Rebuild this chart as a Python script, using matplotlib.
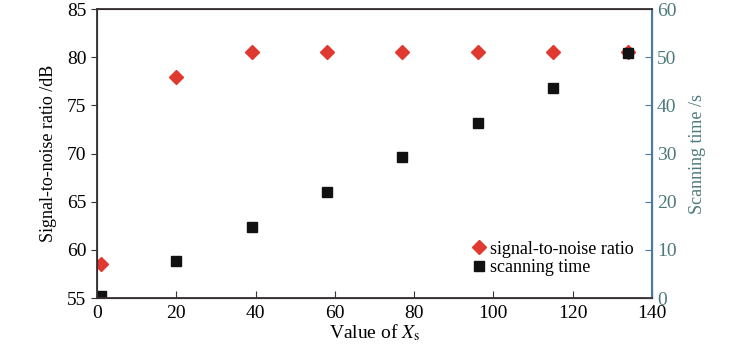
import matplotlib.pyplot as plt

plt.rcParams['font.family'] = ['Liberation Serif', 'DejaVu Serif']
plt.rcParams['mathtext.fontset'] = 'stix'

xs_values = [1, 20, 39, 58, 77, 96, 115, 134]
snr_db = [58.5, 77.9, 80.5, 80.5, 80.5, 80.5, 80.5, 80.5]
scan_time_s = [0.4, 7.7, 14.7, 22.0, 29.2, 36.3, 43.5, 50.8]

x_ticks = [0, 20, 40, 60, 80, 100, 120, 140]
snr_ticks = [55, 60, 65, 70, 75, 80, 85]
time_ticks = [0, 10, 20, 30, 40, 50, 60]

dark = '#3a3232'
blue = '#4a7ba6'
teal = '#4d7a7c'

fig = plt.figure(figsize=(7.5, 3.44), dpi=100)
ax = fig.add_axes([0.1293, 0.1337, 0.74, 0.8401])
ax2 = ax.twinx()

p1, = ax.plot(xs_values, snr_db, linestyle='none', marker='D', markersize=7,
              color='#e03a30', label='signal-to-noise ratio')
p2, = ax2.plot(xs_values, scan_time_s, linestyle='none', marker='s', markersize=6.5,
               color='#111111', label='scanning time')

ax.set_xlim(0, 140)
ax.set_ylim(55, 85)
ax2.set_ylim(0, 60)
ax.set_xticks(x_ticks)
ax.set_yticks(snr_ticks)
ax2.set_yticks(time_ticks)

ax.tick_params(axis='x', direction='in', length=5, color=dark, labelsize=14, pad=5)
ax.tick_params(axis='y', direction='out', length=4, color=dark, labelsize=14)
ax2.tick_params(axis='y', direction='in', length=5, color=blue, labelcolor=teal, labelsize=14)

for s in ['left', 'top', 'bottom']:
    ax2.spines[s].set_color(dark)
    ax2.spines[s].set_linewidth(1.3)
ax2.spines['right'].set_color(blue)
ax2.spines['right'].set_linewidth(1.5)

ax.set_xlabel('Value of $X_{\\rm s}$', fontsize=14, labelpad=0)
ax.set_ylabel('Signal-to-noise ratio /dB', fontsize=13, labelpad=7)
ax2.set_ylabel('Scanning time /s', fontsize=13, color=teal, labelpad=9)

ax2.legend(handles=[p1, p2], loc='lower left', bbox_to_anchor=(0.655, 0.05),
           frameon=False, fontsize=13, handletextpad=0.05, labelspacing=0.1,
           handlelength=1.2, borderaxespad=0.0)

fig.savefig('out.png', dpi=100)
